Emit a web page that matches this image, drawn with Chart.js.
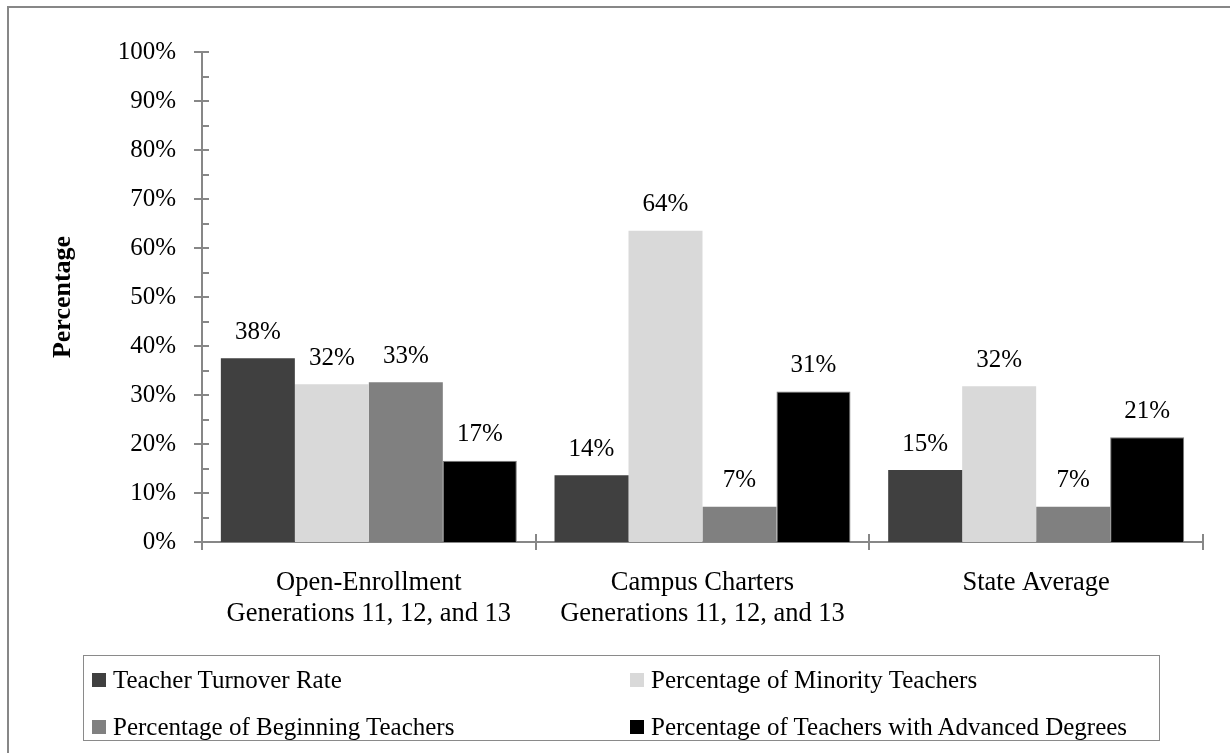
<!DOCTYPE html>
<html>
<head>
<meta charset="utf-8">
<script src="https://cdn.jsdelivr.net/npm/chart.js@4/dist/chart.umd.min.js"></script>
<style>
  html, body { margin: 0; padding: 0; background: #fff; overflow: hidden; }
  #wrap { position: relative; width: 1230px; height: 753px; }
  #frame { position: absolute; left: 7px; top: 6px; width: 1300px; height: 800px;
           border-left: 2px solid #878787; border-top: 2px solid #878787; }
  #chart { position: absolute; left: 0; top: 0; }
  #legend { position: absolute; left: 83px; top: 655px; width: 1075px; height: 84px;
            border: 1.5px solid #8a8a8a; font: 25px "Liberation Serif", "Times New Roman", serif; color: #000; }
  .item { position: absolute; display: flex; align-items: center; height: 30px; white-space: nowrap; }
  .sw { width: 14px; height: 14px; margin-right: 7px; }
</style>
</head>
<body>
<div id="wrap">
  <div id="frame"></div>
  <canvas id="chart" width="1230" height="753"></canvas>
  <div id="legend"></div>
</div>
<script>
// categories (two-line labels, like the original axis)
const categories = [
  ['Open-Enrollment', 'Generations 11, 12, and 13'],
  ['Campus Charters', 'Generations 11, 12, and 13'],
  ['State Average'],
];

// series, in percent
const turnover  = [37.5, 13.6, 14.7];
const minority  = [32.2, 63.5, 31.8];
const beginning = [32.6, 7.2, 7.2];
const advanced  = [16.6, 30.7, 21.4];

const seriesNames = [
  'Teacher Turnover Rate',
  'Percentage of Minority Teachers',
  'Percentage of Beginning Teachers',
  'Percentage of Teachers with Advanced Degrees',
];
const seriesColors = ['#404040', '#d9d9d9', '#808080', '#000000'];
const yTicks = [0, 10, 20, 30, 40, 50, 60, 70, 80, 90, 100];

const FONT = '"Liberation Serif", "Times New Roman", serif';
const AXIS = '#878787';

// axis tick marks: majors cross the axis, minors sit inside
const axisTicks = {
  id: 'axisTicks',
  afterDraw(chart) {
    const { ctx } = chart;
    const x = chart.scales.x, y = chart.scales.y;
    ctx.save();
    ctx.strokeStyle = AXIS;
    ctx.lineWidth = 2;
    ctx.beginPath();
    for (let v = 0; v <= 100; v += 5) {
      const py = Math.round(y.getPixelForValue(v));
      const major = v % 10 === 0;
      ctx.moveTo(x.left - (major ? 8 : 0), py);
      ctx.lineTo(x.left + 7, py);
    }
    const n = categories.length;
    for (let i = 0; i <= n; i++) {
      const px = Math.round(x.left + i * (x.right - x.left) / n);
      ctx.moveTo(px, y.bottom - 8);
      ctx.lineTo(px, y.bottom + 8);
    }
    ctx.stroke();
    ctx.restore();
  }
};

// value labels above the bars
const barLabels = {
  id: 'barLabels',
  afterDatasetsDraw(chart) {
    const { ctx } = chart;
    ctx.save();
    ctx.font = '25px ' + FONT;
    ctx.fillStyle = '#000';
    ctx.textAlign = 'center';
    ctx.textBaseline = 'middle';
    chart.data.datasets.forEach((ds, di) => {
      chart.getDatasetMeta(di).data.forEach((bar, i) => {
        ctx.fillText(Math.round(ds.data[i]) + '%', bar.x, bar.y - 26);
      });
    });
    ctx.restore();
  }
};

const allSeries = [turnover, minority, beginning, advanced];

new Chart(document.getElementById('chart'), {
  type: 'bar',
  data: {
    labels: categories,
    datasets: allSeries.map((vals, i) => ({
      label: seriesNames[i],
      data: vals,
      backgroundColor: seriesColors[i],
      borderColor: i === 3 ? '#7a7a7a' : seriesColors[i],
      borderWidth: i === 3 ? 1 : 0,
      categoryPercentage: 0.887,
      barPercentage: 1.0,
    })),
  },
  options: {
    responsive: false,
    animation: false,
    events: [],
    layout: { padding: { left: 0, right: 27, top: 52, bottom: 0 } },
    plugins: { legend: { display: false }, tooltip: { enabled: false } },
    scales: {
      x: {
        grid: { display: false, drawTicks: false },
        border: { display: true, color: AXIS, width: 2 },
        ticks: { color: '#000', font: { family: FONT, size: 26.5, lineHeight: 1.15 }, padding: 26, maxRotation: 0, autoSkip: false },
        afterFit(s) { s.height = 211; },
      },
      y: {
        min: 0, max: 100,
        afterBuildTicks(s) { s.ticks = yTicks.map(v => ({ value: v })); },
        grid: { display: false, drawTicks: false },
        border: { display: true, color: AXIS, width: 2 },
        ticks: { color: '#000', font: { family: FONT, size: 25 }, padding: 26, callback: v => v + '%' },
        title: { display: true, text: 'Percentage', color: '#000',
                 font: { family: FONT, size: 26, weight: 'bold' }, padding: { top: 48 } },
        afterFit(s) { s.width = 202; },
      },
    },
  },
  plugins: [axisTicks, barLabels],
});

// legend: two columns, two rows
const legend = document.getElementById('legend');
const cols = [8, 546], rows = [9, 56];
seriesNames.forEach((name, i) => {
  const it = document.createElement('div');
  it.className = 'item';
  it.style.left = cols[i % 2] + 'px';
  it.style.top = rows[Math.floor(i / 2)] + 'px';
  it.innerHTML = '<span class="sw" style="background:' + seriesColors[i] + '"></span>' + name;
  legend.appendChild(it);
});
</script>
</body>
</html>
